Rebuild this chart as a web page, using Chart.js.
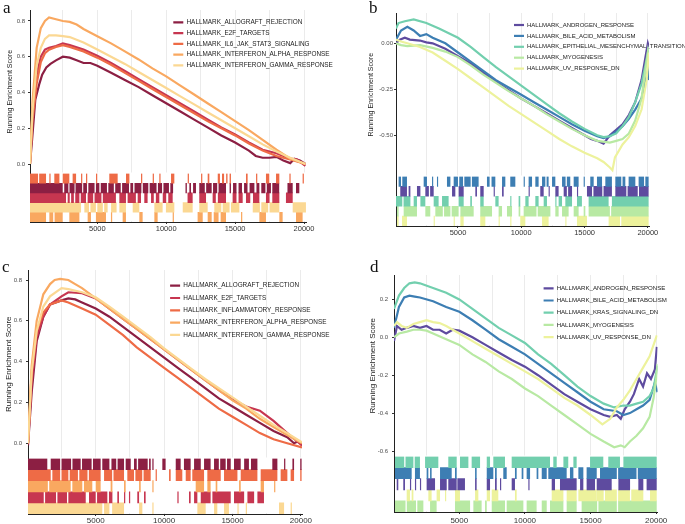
<!DOCTYPE html>
<html>
<head>
<meta charset="utf-8">
<script src="https://cdn.jsdelivr.net/npm/chart.js@4.4.1/dist/chart.umd.min.js"></script>
<style>
  html, body { margin: 0; padding: 0; background: #fff; }
  #wrap { position: relative; width: 685px; height: 524px; overflow: hidden; }
  .panel { position: absolute; }
  .tag { position: absolute; font-family: "Liberation Serif", "DejaVu Serif", serif; font-size: 17px; line-height: 1; color: #111; }
</style>
</head>
<body>
<div id="wrap">
  <div class="panel" style="left:0;top:0"><canvas id="chartA" width="340" height="255"></canvas></div>
  <div class="panel" style="left:340px;top:0"><canvas id="chartB" width="345" height="255"></canvas></div>
  <div class="panel" style="left:0;top:255px"><canvas id="chartC" width="340" height="269"></canvas></div>
  <div class="panel" style="left:340px;top:255px"><canvas id="chartD" width="345" height="269"></canvas></div>
  <div class="tag" style="left:3px;top:-1px">a</div>
  <div class="tag" style="left:369px;top:-1px">b</div>
  <div class="tag" style="left:2px;top:258px">c</div>
  <div class="tag" style="left:370px;top:258px">d</div>
</div>
<script>
// ---- eixo x (posição no ranking de genes) ----
const xGridTicks = [2500, 5000, 7500, 10000, 12500, 15000, 17500, 20000];
const xLabelTicks = [5000, 10000, 15000, 20000];

// ---- painel a : [rank, running ES] ----
const aAllograft = [[116,0],[250,0.12],[500,0.36],[800,0.45],[1000,0.5],[1300,0.54],[1600,0.56],[2000,0.58],[2500,0.6],[3000,0.595],[3500,0.58],[4000,0.565],[4500,0.565],[5000,0.55],[6000,0.51],[7000,0.47],[8000,0.43],[9000,0.385],[10000,0.34],[11000,0.295],[12000,0.25],[13000,0.205],[14000,0.16],[15000,0.12],[16000,0.075],[16500,0.045],[17000,0.035],[17500,0.035],[18000,0.04],[18500,0.02],[19000,0.005],[19300,0.03],[19700,0.02],[20100,0]];
const aE2F = [[116,0],[300,0.3],[600,0.5],[900,0.6],[1200,0.64],[1500,0.65],[2000,0.66],[2500,0.675],[3000,0.665],[4000,0.64],[5000,0.605],[6000,0.565],[7000,0.52],[8000,0.475],[9000,0.43],[10000,0.385],[11000,0.34],[12000,0.295],[13000,0.25],[14000,0.205],[15000,0.165],[16000,0.12],[17000,0.08],[18000,0.06],[19000,0.03],[19500,0.025],[20100,-0.01]];
const aIL6 = [[116,0],[300,0.25],[600,0.45],[900,0.57],[1200,0.62],[1500,0.64],[2000,0.655],[2500,0.665],[3000,0.655],[4000,0.63],[5000,0.595],[6000,0.555],[7000,0.51],[8000,0.465],[9000,0.42],[10000,0.375],[11000,0.33],[12000,0.285],[13000,0.24],[14000,0.2],[15000,0.16],[16000,0.115],[17000,0.075],[18000,0.045],[19000,0.025],[20100,0]];
const aAlpha = [[116,0],[300,0.35],[600,0.65],[900,0.76],[1200,0.8],[1500,0.82],[2000,0.81],[2500,0.8],[3000,0.795],[3500,0.78],[4000,0.755],[5000,0.715],[6000,0.675],[7000,0.63],[8000,0.585],[9000,0.535],[10000,0.49],[11000,0.44],[12000,0.39],[13000,0.34],[14000,0.29],[15000,0.24],[16000,0.19],[17000,0.135],[18000,0.08],[19000,0.03],[20100,0]];
const aGamma = [[116,0],[300,0.3],[600,0.55],[900,0.65],[1200,0.7],[1500,0.72],[2000,0.72],[2500,0.715],[3000,0.71],[4000,0.68],[5000,0.64],[6000,0.6],[7000,0.56],[8000,0.515],[9000,0.47],[10000,0.425],[11000,0.38],[12000,0.335],[13000,0.29],[14000,0.245],[15000,0.2],[16000,0.155],[17000,0.11],[18000,0.07],[19000,0.035],[20100,0]];

// faixas de genes (hits) do painel a, [início, fim]
const aRugIL6 = [[70,700],[780,1280],[1520,1610],[1880,2250],[2490,2970],[3210,3460],[3820,3910],[4180,4270],[4906,4996],[5870,6478],[7083,7330],[8172,8262],[9020,9110],[9500,9590],[10350,10590],[11560,11650],[12530,12620],[13010,13130],[13740,13900],[14050,14200],[14350,14450],[14600,14700],[15790,15910],[16520,16610],[17240,17480],[17970,18210],[18940,19030],[19900,19990]];
const aRugAllo = [[70,2490],[2600,2900],[2980,3350],[3420,3900],[3980,4250],[4350,4800],[4900,5150],[5250,5700],[5800,6200],[6300,6700],[6800,7300],[7400,7600],[7700,8200],[8300,8700],[8800,9300],[9400,9700],[9800,10200],[10300,10500],[11400,11500],[11680,11800],[11950,12160],[12400,12800],[12900,13300],[13400,13700],[13800,14340],[14600,14700],[14850,15100],[15250,15500],[15650,15900],[16050,16400],[16550,16760],[16900,17200],[17300,17600],[17700,18200],[18800,19180],[19420,19660]];
const aRugE2F = [[70,2730],[2850,3000],[3100,3300],[3400,3700],[3800,4180],[4300,4700],[4800,5300],[5400,6350],[6600,7080],[7200,7800],[7930,8170],[8410,8650],[8900,9100],[9250,9500],[9750,10000],[10150,10470],[11550,11920],[12400,12890],[13370,13600],[13750,14340],[14820,15100],[15250,15550],[15790,16100],[16300,16760],[17240,17500],[17700,18210],[18690,19180]];
const aRugGamma = [[70,3820],[4060,4400],[4500,4900],[5000,5400],[5500,5750],[6000,6400],[6600,7080],[7570,8050],[9140,9740],[9980,10590],[11200,11920],[12400,13010],[13490,14000],[14100,14600],[14700,15310],[16280,16800],[16900,17400],[17500,18210],[19180,20140]];
const aRugAlpha = [[70,1280],[1520,1800],[1900,2490],[2970,3700],[4300,4540],[4900,5630],[5990,6080],[6840,7080],[8050,8290],[9140,9380],[10470,10560],[12280,12650],[13010,13300],[13450,13800],[13950,14340],[15430,15520],[16760,17240],[18210,18450],[19420,19900]];

// ---- painel b ----
const bAndrogen = [[103,0],[400,0.02],[800,0.03],[1200,0.02],[2000,0.015],[2500,0.005],[3000,0],[4000,-0.03],[5000,-0.07],[6000,-0.11],[7000,-0.16],[8000,-0.21],[9000,-0.255],[10000,-0.3],[11000,-0.34],[12000,-0.38],[13000,-0.42],[14000,-0.46],[15000,-0.5],[15500,-0.52],[16000,-0.53],[16500,-0.545],[17000,-0.5],[17500,-0.47],[18000,-0.44],[18500,-0.39],[19000,-0.32],[19500,-0.2],[19800,-0.08],[20000,0],[20090,-0.02]];
const bBile = [[103,0.02],[500,0.07],[1000,0.09],[1500,0.07],[2000,0.04],[2500,0.05],[3000,0.03],[4000,0],[5000,-0.05],[6000,-0.1],[7000,-0.15],[8000,-0.2],[9000,-0.24],[10000,-0.28],[11000,-0.32],[12000,-0.36],[13000,-0.4],[14000,-0.44],[15000,-0.475],[15500,-0.49],[16000,-0.505],[16500,-0.515],[17000,-0.505],[17500,-0.48],[18000,-0.45],[18500,-0.41],[19000,-0.36],[19500,-0.3],[20000,-0.15],[20090,-0.2]];
const bEMT = [[103,0.08],[300,0.11],[800,0.12],[1500,0.13],[2500,0.11],[3500,0.08],[5000,0.03],[6000,-0.02],[7000,-0.075],[8000,-0.13],[9000,-0.18],[10000,-0.23],[11000,-0.28],[12000,-0.33],[13000,-0.38],[14000,-0.425],[15000,-0.465],[16000,-0.5],[16500,-0.51],[17000,-0.505],[17500,-0.49],[18000,-0.45],[18500,-0.4],[19000,-0.32],[19500,-0.22],[19800,-0.12],[20000,-0.05],[20090,-0.1]];
const bMyo = [[103,0],[500,-0.01],[1000,-0.015],[2000,-0.01],[3000,-0.025],[4000,-0.045],[5000,-0.075],[6000,-0.12],[7000,-0.17],[8000,-0.215],[9000,-0.26],[10000,-0.3],[11000,-0.34],[12000,-0.385],[13000,-0.425],[14000,-0.465],[15000,-0.5],[16000,-0.53],[17000,-0.54],[17500,-0.53],[18000,-0.52],[18500,-0.49],[19000,-0.42],[19500,-0.3],[20000,-0.05],[20090,-0.1]];
const bUV = [[103,0.02],[500,0.01],[1000,0],[2000,-0.02],[3000,-0.05],[4000,-0.095],[5000,-0.14],[6000,-0.19],[7000,-0.24],[8000,-0.29],[9000,-0.34],[10000,-0.385],[11000,-0.43],[12000,-0.475],[13000,-0.52],[14000,-0.56],[15000,-0.595],[16000,-0.625],[16500,-0.645],[17000,-0.675],[17200,-0.69],[17400,-0.62],[18000,-0.55],[18500,-0.51],[19000,-0.45],[19500,-0.36],[19900,-0.2],[20090,-0.05]];

const bRugBile = [[310,500],[600,970],[2290,2550],[2950,3040],[3340,3430],[4130,4400],[4660,5000],[5100,5400],[5500,6000],[6100,6630],[7290,7500],[7650,7950],[8480,8740],[9130,9530],[10190,10280],[10580,10850],[11110,11370],[11640,11900],[12000,12160],[12430,12690],[13220,13500],[13600,13870],[14140,14530],[14930,15020],[15450,15720],[15980,16380],[16640,17160],[17430,17900],[18000,18220],[18480,19010],[19270,19700],[19800,20060]];
const bRugAndro = [[440,970],[1100,1240],[1760,2030],[2420,2700],[2800,3080],[4530,4790],[5050,5450],[6370,6500],[6760,7030],[7820,7910],[8480,8610],[10580,10670],[11500,11770],[12160,12250],[12690,12950],[13350,13600],[13700,14010],[14400,14490],[15190,15590],[15700,16400],[16500,17160],[17430,18300],[18400,19200],[19300,20060]];
const bRugEMT = [[50,600],[700,1240],[1500,1760],[2030,2420],[3080,3470],[3740,4260],[5050,5450],[5970,6100],[6760,7030],[7950,8210],[9130,9220],[9790,9920],[10320,10580],[11110,11370],[11770,12030],[12690,12780],[12950,13220],[13480,14010],[14400,14790],[15320,16900],[17160,20060]];
const bRugMyo = [[180,310],[710,1760],[2420,2810],[3210,3800],[3900,4400],[4500,5050],[5190,6240],[6760,7690],[8210,8480],[8870,9270],[9790,9920],[10190,11200],[11300,12300],[12690,12950],[13220,13740],[14140,14530],[14930,15060],[15320,17000],[17100,20060]];
const bRugUV = [[180,310],[580,970],[3080,3170],[4660,4750],[5190,5450],[6760,7160],[8210,8300],[9130,9220],[9920,10320],[11640,12160],[13480,13570],[14400,15190],[16900,17800],[17900,20060]];

// ---- painel c ----
const cAllograft = [[50,-0.01],[320,0.25],[685,0.5],[1170,0.62],[1660,0.68],[2500,0.7],[3000,0.71],[3500,0.705],[4000,0.69],[5000,0.66],[6000,0.62],[7000,0.57],[8000,0.52],[9000,0.47],[10000,0.42],[11000,0.37],[12000,0.32],[13000,0.27],[14000,0.22],[15000,0.18],[16000,0.14],[17000,0.1],[18000,0.06],[19000,0.03],[19500,0],[19800,0.01],[20080,-0.01]];
const cE2F = [[50,0],[320,0.3],[685,0.52],[1170,0.62],[1660,0.68],[2500,0.72],[3000,0.74],[4000,0.735],[5000,0.71],[6000,0.66],[7000,0.61],[8000,0.56],[9000,0.51],[10000,0.46],[11000,0.41],[12000,0.36],[13000,0.31],[14000,0.26],[15000,0.215],[16000,0.18],[17000,0.16],[18000,0.11],[19000,0.05],[20080,-0.01]];
const cInfl = [[50,0],[320,0.35],[685,0.55],[1170,0.64],[1660,0.68],[2500,0.7],[3000,0.69],[4000,0.66],[5000,0.63],[6000,0.58],[7000,0.53],[8000,0.47],[9000,0.42],[10000,0.37],[11000,0.32],[12000,0.27],[13000,0.22],[14000,0.17],[15000,0.13],[16000,0.09],[17000,0.05],[18000,0.02],[19000,0],[20080,-0.02]];
const cAlpha = [[50,0],[320,0.38],[685,0.6],[1170,0.73],[1660,0.78],[2000,0.8],[2400,0.805],[3000,0.8],[3500,0.78],[4000,0.76],[5000,0.71],[6000,0.66],[7000,0.61],[8000,0.56],[9000,0.51],[10000,0.46],[11000,0.41],[12000,0.36],[13000,0.31],[14000,0.26],[15000,0.21],[16000,0.17],[17000,0.12],[18000,0.08],[19000,0.04],[20080,0]];
const cGamma = [[50,0],[320,0.35],[685,0.55],[1170,0.67],[1660,0.72],[2500,0.76],[3000,0.755],[4000,0.74],[5000,0.715],[6000,0.67],[7000,0.62],[8000,0.57],[9000,0.52],[10000,0.465],[11000,0.415],[12000,0.365],[13000,0.315],[14000,0.27],[15000,0.225],[16000,0.18],[17000,0.135],[18000,0.09],[19000,0.05],[20080,0.005]];

const cRugAllo = [[50,1460],[1710,2400],[2500,3200],[3300,3900],[4000,4700],[4800,5360],[5480,6000],[6150,6500],[6600,7070],[7190,7560],[7800,8000],[8100,8800],[8900,9020],[9140,9230],[9870,10110],[10850,11210],[11450,11940],[12190,12680],[12920,13400],[13650,14000],[14100,14500],[14600,14870],[15110,15600],[15850,16200],[16350,16820],[17910,18280],[18770,18860],[19380,19500],[19950,20050]];
const cRugInfl = [[50,1710],[1830,2400],[2500,3000],[3100,3700],[3800,4400],[4500,5360],[5610,6200],[6300,7070],[7310,7800],[7900,8400],[8500,9020],[9380,9470],[10360,10480],[10850,11330],[11580,11940],[12060,12920],[13160,14140],[14380,15360],[15600,16820],[17060,18280],[18520,19010],[19250,19500],[19950,20050]];
const cRugAlpha = [[50,1500],[1600,3170],[3290,4020],[4140,4750],[5000,5360],[6090,6220],[7070,7190],[8170,8290],[9140,9230],[12310,12920],[13160,13400],[13770,13890],[15480,15600],[17060,17300],[18040,18130]];
const cRugE2F = [[50,1200],[1300,2100],[2200,2900],[3000,4270],[4510,5000],[5100,5850],[5970,6220],[6580,6700],[7070,7160],[7430,7520],[8040,8170],[8530,8650],[10970,11060],[11820,11940],[12190,12430],[12680,13400],[13530,14870],[15110,15850],[16090,16580],[16820,17300]];
const cRugGamma = [[50,5480],[5610,6000],[6200,7070],[8170,8410],[9140,9230],[12430,13040],[13650,13890],[14380,14740],[15360,15450],[15970,16060],[18400,18770],[19250,19340]];

// ---- painel d ----
const dAndrogen = [[23,-0.02],[250,0.06],[600,0.04],[1000,0.05],[1500,0.06],[2000,0.05],[2500,0.06],[3000,0.04],[3500,0.04],[4000,0.02],[4500,0.04],[5000,0.035],[6000,0],[7000,-0.04],[8000,-0.08],[9000,-0.12],[10000,-0.155],[11000,-0.2],[12000,-0.25],[13000,-0.3],[14000,-0.34],[15000,-0.38],[16000,-0.41],[16500,-0.42],[17000,-0.41],[17300,-0.43],[17600,-0.38],[18000,-0.34],[18300,-0.3],[18700,-0.22],[19000,-0.26],[19300,-0.19],[19600,-0.22],[19900,-0.17],[20050,-0.05]];
const dBile = [[23,0.05],[400,0.16],[800,0.21],[1200,0.22],[1600,0.215],[2000,0.21],[3000,0.19],[4000,0.16],[5000,0.135],[6000,0.09],[7000,0.04],[8000,-0.01],[9000,-0.05],[10000,-0.09],[11000,-0.14],[12000,-0.19],[13000,-0.24],[14000,-0.29],[15000,-0.34],[16000,-0.38],[17000,-0.39],[17500,-0.41],[18000,-0.4],[18500,-0.38],[19000,-0.36],[19500,-0.33],[19900,-0.24],[20100,-0.29]];
const dKRAS = [[23,0.15],[400,0.22],[800,0.26],[1200,0.285],[1600,0.29],[2000,0.285],[3000,0.26],[4000,0.235],[5000,0.2],[6000,0.15],[7000,0.1],[8000,0.05],[9000,0.01],[10000,-0.03],[11000,-0.09],[12000,-0.14],[13000,-0.2],[14000,-0.26],[15000,-0.31],[16000,-0.35],[16800,-0.37],[17500,-0.36],[18000,-0.36],[18500,-0.35],[19000,-0.34],[19500,-0.31],[19800,-0.27],[20100,-0.15]];
const dMyo = [[23,0],[400,0.02],[1000,0.03],[1500,0.04],[2000,0.04],[2500,0.035],[3000,0.02],[4000,-0.01],[5000,-0.04],[6000,-0.09],[7000,-0.13],[8000,-0.18],[9000,-0.22],[10000,-0.27],[11000,-0.31],[12000,-0.36],[13000,-0.41],[14000,-0.46],[15000,-0.51],[16000,-0.55],[16800,-0.58],[17300,-0.57],[17600,-0.58],[18000,-0.55],[18500,-0.52],[19000,-0.48],[19500,-0.42],[19800,-0.32],[20000,-0.22],[20100,-0.14]];
const dUV = [[23,0.06],[250,0.08],[600,0.06],[1000,0.05],[1500,0.07],[2000,0.08],[2500,0.09],[3000,0.08],[3500,0.075],[4000,0.06],[4500,0.04],[5000,0.02],[6000,-0.02],[7000,-0.06],[8000,-0.1],[9000,-0.14],[10000,-0.18],[11000,-0.22],[12000,-0.27],[13000,-0.32],[14000,-0.36],[15000,-0.41],[15900,-0.46],[16500,-0.43],[17000,-0.37],[17500,-0.33],[18000,-0.28],[18500,-0.22],[19000,-0.16],[19500,-0.1],[19800,-0.04],[20050,0.01]];

const dRugKRAS = [[100,800],[900,1500],[1600,2000],[2390,3400],[4160,4800],[5050,5690],[5940,6580],[7090,7340],[7590,8480],[8990,11910],[12160,12420],[12930,13300],[13690,13940],[14960,15970],[16350,17240],[17500,20040]];
const dRugBile = [[100,1370],[1620,2000],[2510,2640],[2770,2890],[3530,4420],[4670,4800],[6200,6320],[7090,7590],[7720,7850],[8350,8610],[9240,9370],[9750,9880],[10130,10390],[10890,11020],[11280,11660],[11780,13180],[13430,13690],[14070,14450],[14700,15470],[15720,17000],[17100,18500],[18600,20040]];
const dRugAndro = [[230,350],[730,860],[1240,1330],[1620,1710],[2000,2090],[2510,3150],[3530,4040],[4160,4800],[4850,5430],[6200,6320],[7090,7340],[7720,7850],[8100,8190],[8990,9240],[10260,10350],[12040,12290],[12670,13940],[14200,14450],[14700,15340],[15470,16610],[17120,18010],[18640,19020],[19270,20040]];
const dRugUV = [[990,1240],[1370,1500],[2640,2890],[3270,3530],[3910,4000],[4670,5050],[6200,6450],[7090,7340],[7470,7970],[9240,9370],[12040,12930],[13180,13940],[14070,15470],[15470,16000],[16100,17000],[17100,18000],[18100,19020],[19530,20040]];
const dRugMyo = [[100,900],[1000,1700],[1800,2260],[2770,3270],[4670,5820],[6070,6700],[6960,7090],[7470,8480],[8610,9880],[10130,10890],[11280,11660],[11910,12930],[13180,13940],[14320,15500],[15600,17000],[17100,20040]];

// ---- ticks do eixo y ----
const yTicksA = [0, 0.2, 0.4, 0.6, 0.8];
const yTicksB = [-0.5, -0.25, 0];
const yTicksC = [0, 0.2, 0.4, 0.6, 0.8];
const yTicksD = [-0.6, -0.4, -0.2, 0, 0.2];

// paletas
const RED = { allo: '#8C1F43', e2f: '#C73650', orange: '#EE6B46', alpha: '#F9A860', gamma: '#FBD893' };
const GRN = { andro: '#5E4B9F', bile: '#3D7EB3', teal: '#72CFAE', myo: '#B8E9A3', uv: '#EDF29C' };

const fontSans = '"Liberation Sans", Arial, sans-serif';

/**
 * Plugins auxiliares
 * ======================================================================== */
// fundo branco na área do rug (esconde a grade vertical ali)
const rugBackground = {
    id: 'rugBackground',
    beforeDatasetsDraw(chart) {
        const rug = chart.scales.rug;
        const area = chart.chartArea;
        const ctx = chart.ctx;
        ctx.save();
        ctx.fillStyle = '#fff';
        ctx.fillRect(area.left + 1, rug.top - 1, area.right - area.left, area.bottom - rug.top);
        ctx.restore();
    }
};

// legenda dentro do painel, no canto superior direito
const legendPlacer = {
    id: 'legendPlacer',
    afterLayout(chart, args, opts) {
        const lg = chart.legend;
        if (!lg) return;
        lg.left = opts.x;
        lg.top = opts.y;
        lg.right = opts.x + lg.width + 60;
        lg.bottom = opts.y + 120;
    }
};

function buildPanel(canvasId, p) {
    const nLines = p.series.length;
    const datasets = [];

    p.series.forEach((s, i) => {
        datasets.push({
            type: 'line',
            label: s.name,
            data: s.data,
            borderColor: s.color,
            backgroundColor: s.color,
            borderWidth: 2.2,
            pointRadius: 0,
            tension: 0,
            fill: false,
            xAxisID: 'x',
            yAxisID: 'y',
            order: nLines - i + 1
        });
    });

    p.rug.forEach(r => {
        datasets.push({
            type: 'bar',
            label: r.name,
            indexAxis: 'y',
            data: r.hits.map(h => ({ x: h, y: r.name })),
            backgroundColor: r.color,
            borderWidth: 0,
            grouped: false,
            barPercentage: 1.06,
            categoryPercentage: 1,
            xAxisID: 'x',
            yAxisID: 'rug',
            order: 0
        });
    });

    const legPad = p.legStep - p.legFont;

    new Chart(document.getElementById(canvasId), {
        type: 'line',
        data: { datasets },
        plugins: [rugBackground, legendPlacer],
        options: {
            responsive: false,
            animation: false,
            devicePixelRatio: 1,
            events: [],
            layout: { padding: { left: 0, top: p.top, right: p.right, bottom: 0 } },
            plugins: {
                tooltip: { enabled: false },
                legend: {
                    position: 'chartArea',
                    align: 'start',
                    labels: {
                        usePointStyle: true,
                        pointStyle: 'line',
                        pointStyleWidth: 10,
                        padding: legPad,
                        color: '#1a1a1a',
                        font: { family: fontSans, size: p.legFont },
                        filter: item => item.datasetIndex < nLines,
                        sort: (a, b) => a.datasetIndex - b.datasetIndex
                    }
                },
                legendPlacer: {
                    x: p.legBoxX - legPad,
                    y: p.legRow1 - p.legFont / 2 - legPad
                }
            },
            scales: {
                x: {
                    type: 'linear',
                    position: 'bottom',
                    min: p.xMin,
                    max: p.xMax,
                    afterBuildTicks: s => { s.ticks = xGridTicks.map(v => ({ value: v })); },
                    afterFit: s => { s.height = p.xHeight; },
                    ticks: {
                        autoSkip: false,
                        maxRotation: 0,
                        padding: p.xPad,
                        color: '#333',
                        font: { family: fontSans, size: p.xFont },
                        callback: v => xLabelTicks.includes(v) ? String(v) : ''
                    },
                    grid: {
                        color: '#EBEBEB',
                        lineWidth: 1,
                        tickLength: 2,
                        tickColor: c => (c.tick && xLabelTicks.includes(c.tick.value)) ? '#333' : 'rgba(0,0,0,0)'
                    },
                    border: { color: '#222', width: 1 }
                },
                // o rug vem antes no objeto: a pilha do layout o coloca embaixo
                rug: {
                    type: 'category',
                    axis: 'y',
                    position: 'left',
                    stack: 'v',
                    stackWeight: p.wRug,
                    labels: p.rug.map(r => r.name),
                    offset: true,
                    afterFit: s => { s.width = p.left; },
                    ticks: { display: false },
                    grid: { display: false },
                    border: { color: '#222', width: 1 }
                },
                y: {
                    type: 'linear',
                    position: 'left',
                    stack: 'v',
                    stackWeight: p.wLine,
                    min: p.yMin,
                    max: p.yMax,
                    afterBuildTicks: s => { s.ticks = p.yTicks.map(v => ({ value: v })); },
                    afterFit: s => { s.width = p.left; },
                    ticks: {
                        color: '#4D4D4D',
                        padding: p.yPad,
                        font: { family: fontSans, size: 6 },
                        callback: v => v.toFixed(p.yDec)
                    },
                    grid: { drawOnChartArea: false, tickLength: 2, tickColor: '#333' },
                    border: { color: '#222', width: 1 },
                    title: {
                        display: true,
                        text: 'Running Enrichment Score',
                        color: '#222',
                        font: { family: fontSans, size: p.titleFont },
                        padding: { top: p.titlePad, bottom: 0 }
                    }
                }
            }
        }
    });
}

document.addEventListener('DOMContentLoaded', function () {
    buildPanel('chartA', {
        series: [
            { name: 'HALLMARK_ALLOGRAFT_REJECTION', data: aAllograft, color: RED.allo },
            { name: 'HALLMARK_E2F_TARGETS', data: aE2F, color: RED.e2f },
            { name: 'HALLMARK_IL6_JAK_STAT3_SIGNALING', data: aIL6, color: RED.orange },
            { name: 'HALLMARK_INTERFERON_ALPHA_RESPONSE', data: aAlpha, color: RED.alpha },
            { name: 'HALLMARK_INTERFERON_GAMMA_RESPONSE', data: aGamma, color: RED.gamma }
        ],
        rug: [
            { name: 'IL6_JAK_STAT3', hits: aRugIL6, color: RED.orange },
            { name: 'ALLOGRAFT', hits: aRugAllo, color: RED.allo },
            { name: 'E2F', hits: aRugE2F, color: RED.e2f },
            { name: 'IFN_GAMMA', hits: aRugGamma, color: RED.gamma },
            { name: 'IFN_ALPHA', hits: aRugAlpha, color: RED.alpha }
        ],
        xMin: 116, xMax: 20145, yMin: -0.053, yMax: 0.8615,
        yTicks: yTicksA, yDec: 1,
        top: 10, right: 34, left: 30, xHeight: 33, wLine: 163.5, wRug: 48.5,
        xPad: 0.5, xFont: 7.5, yPad: 3, titleFont: 7, titlePad: 5.8,
        legFont: 6.4, legStep: 10.75, legBoxX: 173.3, legRow1: 22.3
    });

    buildPanel('chartB', {
        series: [
            { name: 'HALLMARK_ANDROGEN_RESPONSE', data: bAndrogen, color: GRN.andro },
            { name: 'HALLMARK_BILE_ACID_METABOLISM', data: bBile, color: GRN.bile },
            { name: 'HALLMARK_EPITHELIAL_MESENCHYMAL_TRANSITION', data: bEMT, color: GRN.teal },
            { name: 'HALLMARK_MYOGENESIS', data: bMyo, color: GRN.myo },
            { name: 'HALLMARK_UV_RESPONSE_DN', data: bUV, color: GRN.uv }
        ],
        rug: [
            { name: 'BILE_ACID', hits: bRugBile, color: GRN.bile },
            { name: 'ANDROGEN', hits: bRugAndro, color: GRN.andro },
            { name: 'EMT', hits: bRugEMT, color: GRN.teal },
            { name: 'MYOGENESIS', hits: bRugMyo, color: GRN.myo },
            { name: 'UV_DN', hits: bRugUV, color: GRN.uv }
        ],
        xMin: 103, xMax: 20090, yMin: -0.7239, yMax: 0.1647,
        yTicks: yTicksB, yDec: 2,
        top: 13, right: 36, left: 56, xHeight: 29, wLine: 163.5, wRug: 49.5,
        xPad: 0, xFont: 7.5, yPad: 1, titleFont: 7, titlePad: 27.3,
        legFont: 6.0, legStep: 10.9, legBoxX: 174, legRow1: 25
    });

    buildPanel('chartC', {
        series: [
            { name: 'HALLMARK_ALLOGRAFT_REJECTION', data: cAllograft, color: RED.allo },
            { name: 'HALLMARK_E2F_TARGETS', data: cE2F, color: RED.e2f },
            { name: 'HALLMARK_INFLAMMATORY_RESPONSE', data: cInfl, color: RED.orange },
            { name: 'HALLMARK_INTERFERON_ALPHA_RESPONSE', data: cAlpha, color: RED.alpha },
            { name: 'HALLMARK_INTERFERON_GAMMA_RESPONSE', data: cGamma, color: RED.gamma }
        ],
        rug: [
            { name: 'ALLOGRAFT', hits: cRugAllo, color: RED.allo },
            { name: 'INFLAMMATORY', hits: cRugInfl, color: RED.orange },
            { name: 'IFN_ALPHA', hits: cRugAlpha, color: RED.alpha },
            { name: 'E2F', hits: cRugE2F, color: RED.e2f },
            { name: 'IFN_GAMMA', hits: cRugGamma, color: RED.gamma }
        ],
        xMin: 50, xMax: 20080, yMin: -0.0745, yMax: 0.849,
        yTicks: yTicksC, yDec: 1,
        top: 15, right: 38, left: 28, xHeight: 10, wLine: 188.5, wRug: 55.5,
        xPad: 0, xFont: 8, yPad: 4, titleFont: 8, titlePad: 4.2,
        legFont: 6.4, legStep: 12.3, legBoxX: 170.1, legRow1: 30.7
    });

    buildPanel('chartD', {
        series: [
            { name: 'HALLMARK_ANDROGEN_RESPONSE', data: dAndrogen, color: GRN.andro },
            { name: 'HALLMARK_BILE_ACID_METABOLISM', data: dBile, color: GRN.bile },
            { name: 'HALLMARK_KRAS_SIGNALING_DN', data: dKRAS, color: GRN.teal },
            { name: 'HALLMARK_MYOGENESIS', data: dMyo, color: GRN.myo },
            { name: 'HALLMARK_UV_RESPONSE_DN', data: dUV, color: GRN.uv }
        ],
        rug: [
            { name: 'KRAS_DN', hits: dRugKRAS, color: GRN.teal },
            { name: 'BILE_ACID', hits: dRugBile, color: GRN.bile },
            { name: 'ANDROGEN', hits: dRugAndro, color: GRN.andro },
            { name: 'UV_DN', hits: dRugUV, color: GRN.uv },
            { name: 'MYOGENESIS', hits: dRugMyo, color: GRN.myo }
        ],
        xMin: 23, xMax: 20100, yMin: -0.629, yMax: 0.3288,
        yTicks: yTicksD, yDec: 1,
        top: 20, right: 27.5, left: 54, xHeight: 12, wLine: 181.5, wRug: 55.5,
        xPad: 2, xFont: 8, yPad: 4, titleFont: 8, titlePad: 27.7,
        legFont: 6.1, legStep: 12.2, legBoxX: 203.6, legRow1: 33.3
    });
});
</script>
</body>
</html>
